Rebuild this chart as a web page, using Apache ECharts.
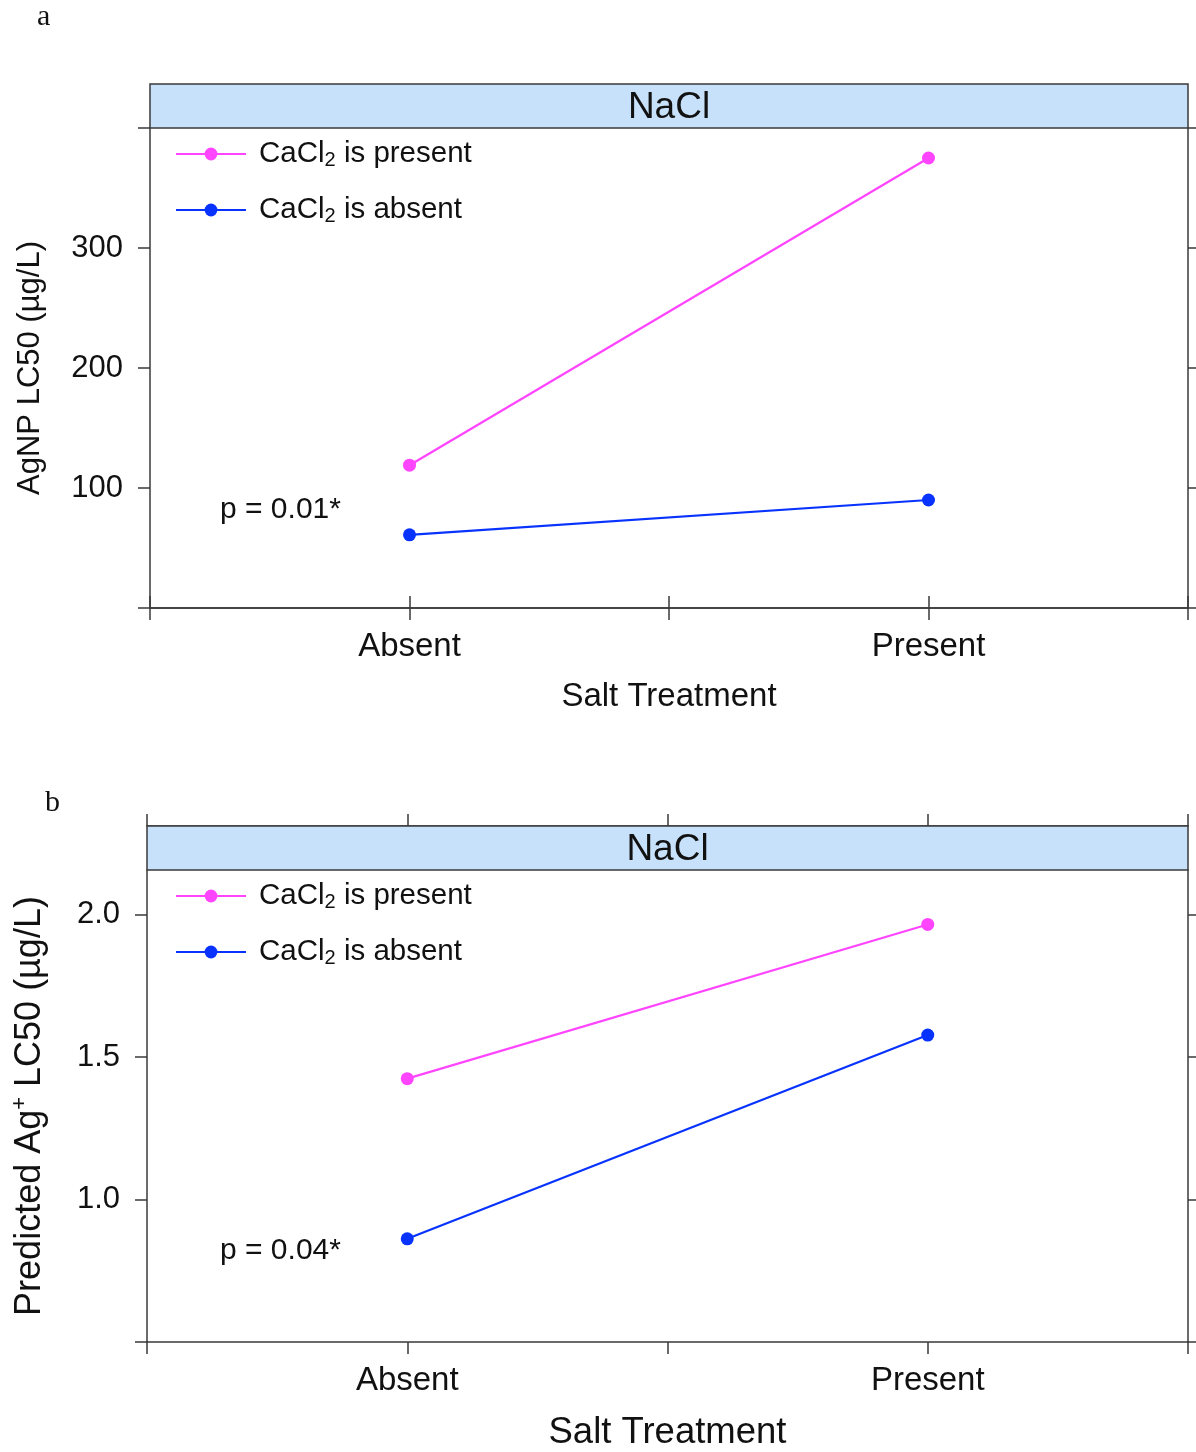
<!DOCTYPE html>
<html><head><meta charset="utf-8">
<script src="https://cdn.jsdelivr.net/npm/echarts@6/dist/echarts.min.js"></script>
<style>html,body{margin:0;padding:0;background:#fff}#c{width:1196px;height:1452px}</style>
</head><body><div id="c"></div>
<script>
const categories = ['Absent', 'Present'];
const seriesNames = ['CaCl2 is present', 'CaCl2 is absent'];
const lc50Present = [119, 375];
const lc50Absent = [61, 90];
const ionPresent = [1.424, 1.965];
const ionAbsent = [0.862, 1.577];
const yTickLabelsA = [100, 200, 300];
const yTicksA = [0, 100, 200, 300, 400];
const yTickLabelsB = [1.0, 1.5, 2.0];
const yTicksB = [0.5, 1.0, 1.5, 2.0];
const pValues = ['p = 0.01*', 'p = 0.04*'];
const stripLabel = 'NaCl';

const FONT = 'Liberation Sans, Arial, sans-serif';
const PINK = '#ff45ff';
const BLUE = '#0833ff';
const AX = '#3a3a3a';
const xTicks = [0.5, 1, 1.5, 2, 2.5];
const toPts = vals => categories.map((c, i) => [i + 1, vals[i]]);

const panels = [
  {left: 150, top: 128, width: 1038, height: 480, ymin: 0, ymax: 400, ticks: yTicksA, labels: yTickLabelsA,
   yname: 'AgNP LC50 (\u00b5g/L)', ynameGap: 104, xnameSize: 33, ynameSize: 31, fmt: v => String(v),
   present: lc50Present, absent: lc50Absent},
  {left: 147, top: 870, width: 1041, height: 477, ymin: 0.5, ymax: 2.156, ticks: yTicksB, labels: yTickLabelsB,
   yname: '{t|Predicted Ag}{sup|+}{t| LC50 (\u00b5g/L)}', ynameGap: 96, xnameSize: 36.5, ynameSize: 36, fmt: v => v.toFixed(1),
   present: ionPresent, absent: ionAbsent}
];

const grid = [], xAxis = [], yAxis = [], series = [], legend = [], graphic = [];
panels.forEach((p, k) => {
  grid.push({left: p.left, top: p.top, width: p.width, height: p.height, containLabel: false});
  const axLine = {show: true, lineStyle: {color: AX, width: 1.5}};
  const tick = {show: true, inside: false, length: 12, lineStyle: {color: AX, width: 1.5}, customValues: xTicks};
  xAxis.push({type: 'value', gridIndex: k, min: 0.5, max: 2.5, interval: 0.5, position: 'bottom',
    axisLine: axLine, axisTick: tick, splitLine: {show: false},
    axisLabel: {show: true, margin: 22, fontSize: 33, color: '#111', fontFamily: FONT,
      customValues: [1, 2], formatter: v => categories[Math.round(v) - 1] || ''},
    name: 'Salt Treatment', nameLocation: 'middle', nameGap: 72,
    nameTextStyle: {fontSize: p.xnameSize, color: '#111', fontFamily: FONT}});
  xAxis.push({type: 'value', gridIndex: k, min: 0.5, max: 2.5, interval: 0.5, position: 'top', offset: 44,
    axisLine: axLine, axisTick: tick, splitLine: {show: false}, axisLabel: {show: false}});
  yAxis.push({type: 'value', gridIndex: k, min: p.ymin, max: p.ymax, interval: k === 0 ? 100 : 0.5, position: 'left',
    axisLine: axLine, axisTick: {show: true, length: 12, lineStyle: {color: AX, width: 1.5}, customValues: p.ticks},
    splitLine: {show: false},
    axisLabel: {show: true, margin: 27, fontSize: 31, color: '#111', fontFamily: FONT, customValues: p.labels, formatter: p.fmt},
    name: p.yname, nameLocation: 'middle', nameRotate: 90, nameGap: p.ynameGap,
    nameTextStyle: {fontSize: p.ynameSize, color: '#111', fontFamily: FONT,
      rich: {t: {fontSize: p.ynameSize, fontFamily: FONT, color: '#111'},
             sup: {fontSize: 22, fontFamily: FONT, color: '#111', padding: [0, 0, 20, 0]}}}});
  yAxis.push({type: 'value', gridIndex: k, min: p.ymin, max: p.ymax, interval: k === 0 ? 100 : 0.5, position: 'right',
    axisLine: axLine, axisTick: {show: true, length: 12, lineStyle: {color: AX, width: 1.5}, customValues: p.ticks},
    splitLine: {show: false}, axisLabel: {show: false}});
  const mk = (name, vals, col) => ({
    name, type: 'line', xAxisIndex: 2 * k, yAxisIndex: 2 * k, data: toPts(vals),
    symbol: 'circle', symbolSize: 13, showSymbol: true, animation: false,
    lineStyle: {color: col, width: 2.2}, itemStyle: {color: col}, z: 5
  });
  series.push(mk(seriesNames[0], p.present, PINK));
  series.push(mk(seriesNames[1], p.absent, BLUE));
  [0, 1].forEach(j => {
    legend.push({data: [seriesNames[j]], left: 175, top: p.top + 26 - 15 + j * 56, orient: 'vertical',
      itemWidth: 70, itemHeight: 16, selectedMode: false, padding: 0,
      formatter: n => '{n|' + n.slice(0, 4) + '}{s|2}{n|' + n.slice(5) + '}',
      textStyle: {fontFamily: FONT, color: '#111', rich: {
        n: {fontSize: 29.5, fontFamily: FONT, color: '#111', lineHeight: 30},
        s: {fontSize: 20, fontFamily: FONT, color: '#111', padding: [12, 0, 0, 0]}}}});
  });
  graphic.push({type: 'rect', shape: {x: p.left, y: p.top - 44, width: p.width, height: 44},
    style: {fill: '#c8e1fa', stroke: AX, lineWidth: 1.5}, z: 10});
  graphic.push({type: 'text', x: p.left + p.width / 2, y: p.top - 20,
    style: {text: stripLabel, fontSize: 37, fontFamily: FONT, fill: '#111', align: 'center', verticalAlign: 'middle'}, z: 11});
  graphic.push({type: 'text', x: 220, y: p.top + (k === 0 ? 382 : 381),
    style: {text: pValues[k], fontSize: 30, fontFamily: FONT, fill: '#111', align: 'left', verticalAlign: 'middle'}, z: 11});
});
graphic.push({type: 'text', x: 37, y: 17, style: {text: 'a', fontSize: 30, fontFamily: 'Liberation Serif, serif', fill: '#111', verticalAlign: 'middle'}});
graphic.push({type: 'text', x: 45, y: 803, style: {text: 'b', fontSize: 30, fontFamily: 'Liberation Serif, serif', fill: '#111', verticalAlign: 'middle'}});

const chart = echarts.init(document.getElementById('c'), null, {renderer: 'canvas'});
chart.setOption({animation: false, backgroundColor: '#fff', grid, xAxis, yAxis, series, legend, graphic, tooltip: {show: false}});
// shift legend text to match the gap after the legend line
chart.setOption({legend: legend.map(l => Object.assign({}, l, {textStyle: Object.assign({}, l.textStyle, {padding: [0, 0, 0, 8]})}))});
</script></body></html>
